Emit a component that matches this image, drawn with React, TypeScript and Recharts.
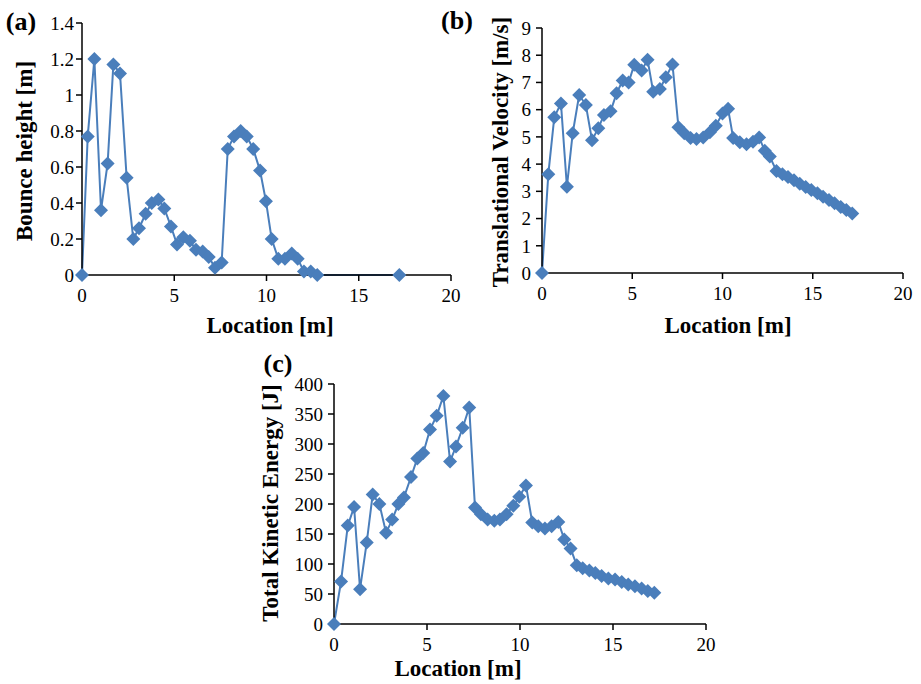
import React from 'react';
import { LineChart, Line, XAxis, YAxis } from 'recharts';

// (a) bounce height
const locA = [0, 0.31, 0.67, 1.03, 1.39, 1.7, 2.06, 2.42, 2.78, 3.09, 3.45, 3.78, 4.14, 4.46, 4.82, 5.15, 5.49, 5.85, 6.18, 6.54, 6.87, 7.21, 7.57, 7.9, 8.24, 8.6, 8.93, 9.28, 9.65, 9.97, 10.28, 10.64, 11.0, 11.37, 11.69, 12.03, 12.4, 12.75, 17.2];
const bounceHeight = [0, 0.77, 1.2, 0.36, 0.62, 1.17, 1.12, 0.54, 0.2, 0.26, 0.34, 0.4, 0.42, 0.37, 0.27, 0.17, 0.21, 0.19, 0.14, 0.13, 0.1, 0.04, 0.07, 0.7, 0.77, 0.8, 0.77, 0.7, 0.58, 0.41, 0.2, 0.09, 0.09, 0.12, 0.09, 0.02, 0.02, 0, 0];

// (b) translational velocity
const locB = [0, 0.35, 0.68, 1.05, 1.38, 1.7, 2.06, 2.43, 2.77, 3.12, 3.43, 3.8, 4.13, 4.47, 4.8, 5.11, 5.52, 5.85, 6.16, 6.53, 6.86, 7.23, 7.56, 7.88, 8.23, 8.56, 8.93, 9.3, 9.63, 10.0, 10.31, 10.59, 10.96, 11.33, 11.69, 12.03, 12.34, 12.62, 12.99, 13.32, 13.63, 13.96, 14.28, 14.61, 14.92, 15.26, 15.57, 15.9, 16.21, 16.55, 16.86, 17.19];
const velocity = [0, 3.63, 5.72, 6.23, 3.17, 5.13, 6.54, 6.17, 4.88, 5.32, 5.8, 5.94, 6.6, 7.07, 7.0, 7.65, 7.44, 7.83, 6.66, 6.76, 7.19, 7.66, 5.35, 5.13, 4.96, 4.92, 4.98, 5.17, 5.41, 5.86, 6.03, 4.96, 4.8, 4.73, 4.82, 4.98, 4.49, 4.28, 3.75, 3.63, 3.53, 3.41, 3.28, 3.16, 3.05, 2.93, 2.8, 2.68, 2.56, 2.42, 2.31, 2.19];

// (c) total kinetic energy
const locC = [0, 0.38, 0.74, 1.08, 1.4, 1.76, 2.08, 2.44, 2.8, 3.13, 3.46, 3.76, 4.14, 4.48, 4.8, 5.16, 5.52, 5.88, 6.24, 6.56, 6.92, 7.27, 7.58, 7.9, 8.26, 8.62, 8.92, 9.28, 9.64, 9.96, 10.32, 10.66, 10.98, 11.34, 11.7, 12.06, 12.38, 12.72, 13.05, 13.37, 13.73, 14.05, 14.39, 14.75, 15.11, 15.47, 15.82, 16.18, 16.54, 16.87, 17.22];
const kineticEnergy = [0, 71, 164, 195, 58, 136, 216, 200, 152, 174, 200, 211, 245, 276, 285, 324, 347, 380, 271, 296, 327, 361, 194, 183, 174, 172, 174, 183, 197, 212, 231, 169, 163, 159, 163, 170, 141, 126, 98, 93, 89, 85, 80, 76, 74, 70, 66, 63, 59, 55, 52];

const xTicks = [0, 5, 10, 15, 20];
const ticksA = [0, 0.2, 0.4, 0.6, 0.8, 1, 1.2, 1.4];
const ticksB = [0, 1, 2, 3, 4, 5, 6, 7, 8, 9];
const ticksC = [0, 50, 100, 150, 200, 250, 300, 350, 400];

const BLUE = '#4a7ebb';
const SERIF = "'Liberation Serif', 'DejaVu Serif', serif";

const Diamond = (props: any) => {
  const { cx, cy, index } = props;
  if (cx == null || cy == null) return <g key={index} />;
  const r = 7;
  return (
    <polygon
      key={index}
      points={`${cx},${cy - r} ${cx + r},${cy} ${cx},${cy + r} ${cx - r},${cy}`}
      fill={BLUE}
    />
  );
};

interface PanelProps {
  left: number;
  top: number;
  width: number;
  height: number;
  margin: { top: number; right: number; bottom: number; left: number };
  xs: number[];
  ys: number[];
  yTicks: number[];
  yAxisWidth: number;
  xAxisHeight: number;
  yTickMargin: number;
}

const tickStyle = { fill: '#000', fontSize: 19, fontFamily: SERIF };
const axisStroke = { stroke: '#000', strokeWidth: 1.5 };

const Panel = ({ left, top, width, height, margin, xs, ys, yTicks, yAxisWidth, xAxisHeight, yTickMargin }: PanelProps) => {
  const data = xs.map((x, i) => ({ x, y: ys[i] }));
  return (
    <div style={{ position: 'absolute', left, top }}>
      <LineChart width={width} height={height} data={data} margin={margin}>
        <XAxis
          type="number"
          dataKey="x"
          domain={[0, 20]}
          ticks={xTicks}
          interval={0}
          height={xAxisHeight}
          tick={tickStyle}
          tickSize={6}
          tickMargin={8}
          axisLine={axisStroke}
          tickLine={axisStroke}
        />
        <YAxis
          type="number"
          domain={[yTicks[0], yTicks[yTicks.length - 1]]}
          ticks={yTicks}
          interval={0}
          width={yAxisWidth}
          tick={tickStyle}
          tickSize={6}
          tickMargin={yTickMargin}
          axisLine={axisStroke}
          tickLine={axisStroke}
        />
        <Line
          type="linear"
          dataKey="y"
          stroke={BLUE}
          strokeWidth={2}
          dot={Diamond}
          activeDot={false}
          isAnimationActive={false}
        />
      </LineChart>
    </div>
  );
};

const Title = ({ x, y, text, vertical = false, size = 23 }: { x: number; y: number; text: string; vertical?: boolean; size?: number }) => (
  <div
    style={{
      position: 'absolute',
      left: x,
      top: y,
      transform: `translate(-50%, -50%)${vertical ? ' rotate(-90deg)' : ''}`,
      fontFamily: SERIF,
      fontWeight: 'bold',
      fontSize: size,
      lineHeight: 1,
      whiteSpace: 'nowrap',
      color: '#000',
    }}
  >
    {text}
  </div>
);

export default function App() {
  return (
    <div style={{ position: 'absolute', left: 0, top: 0, width: 921, height: 684, background: '#fff', overflow: 'hidden' }}>
      <Panel
        left={0}
        top={0}
        width={470}
        height={320}
        margin={{ top: 23, right: 19, bottom: 0, left: 0 }}
        xs={locA}
        ys={bounceHeight}
        yTicks={ticksA}
        yAxisWidth={82}
        xAxisHeight={45}
        yTickMargin={2}
      />
      <Panel
        left={460}
        top={0}
        width={461}
        height={320}
        margin={{ top: 28, right: 18, bottom: 0, left: 0 }}
        xs={locB}
        ys={velocity}
        yTicks={ticksB}
        yAxisWidth={82}
        xAxisHeight={47}
        yTickMargin={5}
      />
      <Panel
        left={250}
        top={340}
        width={480}
        height={320}
        margin={{ top: 44, right: 24, bottom: 0, left: 0 }}
        xs={locC}
        ys={kineticEnergy}
        yTicks={ticksC}
        yAxisWidth={84}
        xAxisHeight={36}
        yTickMargin={5}
      />

      <Title x={21} y={22} text="(a)" size={26} />
      <Title x={457} y={21} text="(b)" size={26} />
      <Title x={278} y={364} text="(c)" size={26} />

      <Title x={24} y={151} text="Bounce height [m]" vertical />
      <Title x={270} y={325} text="Location [m]" />
      <Title x={500} y={152} text="Translational Velocity [m/s]" vertical />
      <Title x={728} y={325} text="Location [m]" />
      <Title x={270} y={503} text="Total Kinetic Energy [J]" vertical />
      <Title x={458} y={668} text="Location [m]" />
    </div>
  );
}
